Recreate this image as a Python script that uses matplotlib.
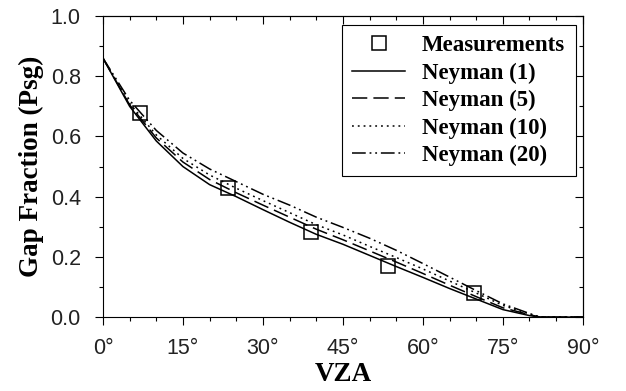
import numpy as np
import matplotlib
matplotlib.use("Agg")
import matplotlib.pyplot as plt
from matplotlib.ticker import MultipleLocator, FuncFormatter

# ------------------ DATA ------------------
MEAS_VZA = [7.0, 23.5, 39.0, 53.5, 69.5]
MEAS_PSG = [0.678, 0.428, 0.282, 0.170, 0.080]

VZA = [0, 5, 10, 15, 20, 25, 30, 35, 40, 45, 50, 55, 60, 65, 70, 75, 80, 82, 90]
NEYMAN_1 = [0.86, 0.70, 0.585, 0.50, 0.44, 0.40, 0.357, 0.315, 0.275, 0.242, 0.205,
            0.168, 0.132, 0.095, 0.06, 0.025, 0.005, 0.0, 0.0]
NEYMAN_5 = [0.86, 0.705, 0.595, 0.515, 0.457, 0.413, 0.372, 0.332, 0.292, 0.257, 0.22,
            0.183, 0.145, 0.106, 0.068, 0.031, 0.008, 0.0, 0.0]
NEYMAN_10 = [0.86, 0.71, 0.605, 0.527, 0.472, 0.428, 0.387, 0.347, 0.307, 0.273, 0.235,
             0.198, 0.16, 0.12, 0.08, 0.039, 0.01, 0.0, 0.0]
NEYMAN_20 = [0.86, 0.72, 0.62, 0.545, 0.492, 0.45, 0.408, 0.372, 0.332, 0.298, 0.262,
             0.222, 0.178, 0.133, 0.088, 0.044, 0.012, 0.0, 0.0]

LABELS = ["Neyman (1)", "Neyman (5)", "Neyman (10)", "Neyman (20)"]
DASHES = [None, (10, 4), (1.2, 2.6), (9, 2.5, 1.2, 2.5, 1.2, 2.5)]

SERIF = ["Liberation Serif", "DejaVu Serif"]
SANS = ["Liberation Sans", "DejaVu Sans"]

# ------------------ PLOT ------------------
fig = plt.figure(figsize=(6.26, 3.91), dpi=100)
ax = fig.add_axes([0.1645, 0.189, 0.7665, 0.770])

ax.plot(MEAS_VZA, MEAS_PSG, linestyle="none", marker="s", markersize=10.5,
        markerfacecolor="none", markeredgecolor="black", markeredgewidth=1.1,
        label="Measurements", zorder=5)

for series, label, dash in zip([NEYMAN_1, NEYMAN_5, NEYMAN_10, NEYMAN_20], LABELS, DASHES):
    line, = ax.plot(VZA, series, color="black", linewidth=1.1, label=label)
    if dash is not None:
        line.set_dashes(dash)

ax.set_xlim(0, 90)
ax.set_ylim(0, 1.0)
ax.xaxis.set_major_locator(MultipleLocator(15))
ax.xaxis.set_minor_locator(MultipleLocator(5))
ax.yaxis.set_major_locator(MultipleLocator(0.2))
ax.yaxis.set_minor_locator(MultipleLocator(0.1))
ax.xaxis.set_major_formatter(FuncFormatter(lambda v, p: f"{v:.0f}\u00b0"))
ax.yaxis.set_major_formatter(FuncFormatter(lambda v, p: f"{v:.1f}"))

ax.tick_params(which="major", direction="out", length=6, width=0.8, labelsize=15.5)
ax.tick_params(axis="x", which="major", pad=9)
ax.tick_params(axis="y", which="major", pad=10)
ax.tick_params(which="minor", direction="out", length=3, width=0.8)
for lab in ax.get_xticklabels() + ax.get_yticklabels():
    lab.set_family(SANS)
    lab.set_color("#222222")

# top and right ticks point inwards
top = ax.secondary_xaxis("top")
top.xaxis.set_major_locator(MultipleLocator(15))
top.xaxis.set_minor_locator(MultipleLocator(5))
top.tick_params(which="major", direction="in", length=6, width=0.8, labeltop=False)
top.tick_params(which="minor", direction="in", length=3, width=0.8)
right = ax.secondary_yaxis("right")
right.yaxis.set_major_locator(MultipleLocator(0.2))
right.yaxis.set_minor_locator(MultipleLocator(0.1))
right.tick_params(which="major", direction="in", length=6, width=0.8, labelright=False)
right.tick_params(which="minor", direction="in", length=3, width=0.8)

for sp in list(ax.spines.values()) + [top.spines["top"], right.spines["right"]]:
    sp.set_linewidth(0.8)

ax.set_xlabel("VZA", fontsize=19.5, fontweight="bold", family=SERIF, labelpad=2)
ax.set_ylabel("Gap Fraction (Psg)", fontsize=19.5, fontweight="bold", family=SERIF, labelpad=5)

leg = ax.legend(loc="upper right", bbox_to_anchor=(0.985, 0.97),
                prop={"family": SERIF, "weight": "bold", "size": 16.5},
                frameon=True, fancybox=False, edgecolor="black", framealpha=1,
                handlelength=2.3, handletextpad=0.75, labelspacing=0.27,
                borderpad=0.45, borderaxespad=0)
leg.get_frame().set_linewidth(0.8)

fig.savefig("out.png", dpi=100)
